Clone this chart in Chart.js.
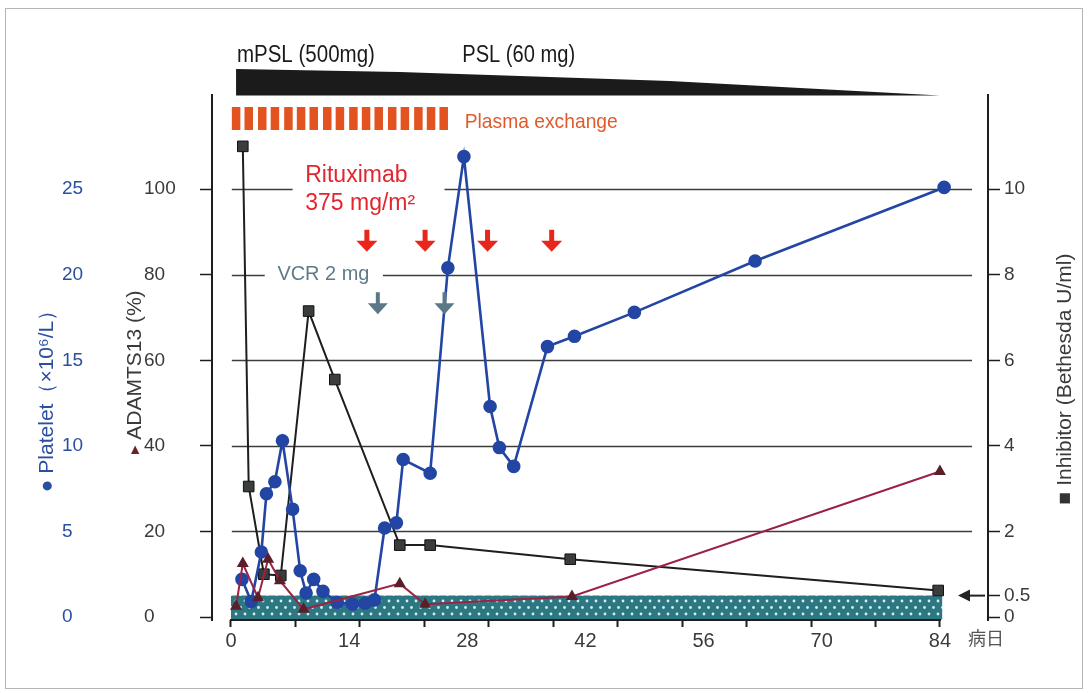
<!DOCTYPE html>
<html lang="en">
<head>
<meta charset="UTF-8">
<title>Clinical course</title>
<script src="https://cdn.jsdelivr.net/npm/chart.js"></script>
<style>
  body { margin: 0; background: #fff; }
  #wrap { position: relative; width: 1088px; height: 693px; }
</style>
</head>
<body>
<div id="wrap"><canvas id="chart" width="1088" height="693"></canvas></div>
<script>
// axis ticks
const xLabelDays = [0, 14, 28, 42, 56, 70, 84];
const xMarkCount = 11; // tick marks on the day axis, not aligned with the labels in the original
const adamTicks = [0, 20, 40, 60, 80, 100];
const plateletTicks = [0, 5, 10, 15, 20, 25];
const inhibitorTicks = [0, 0.5, 2, 4, 6, 8, 10];

// Platelet by day
const plateletDays = [1.3, 2.4, 3.6, 4.2, 5.2, 6.1, 7.3, 8.2, 8.9, 9.8, 10.9, 12.6, 14.4, 15.9, 17.0, 18.2, 19.6, 20.4, 23.6, 25.7, 27.6, 30.7, 31.8, 33.5, 37.5, 40.7, 47.8, 62.1, 84.5];
const plateletValues = [2.2, 0.9, 3.8, 7.2, 7.9, 10.3, 6.3, 2.7, 1.4, 2.2, 1.5, 0.85, 0.75, 0.8, 1.0, 5.2, 5.5, 9.2, 8.4, 20.4, 26.9, 12.3, 9.9, 8.8, 15.8, 16.4, 17.8, 20.8, 25.1];

// ADAMTS13 activity (%)
const adamDays = [0.6, 1.4, 3.2, 4.4, 5.8, 8.6, 20.0, 23.0, 40.4, 84.0];
const adamValues = [2.5, 12.5, 4.5, 13.5, 8.5, 1.8, 7.8, 3.0, 4.8, 34.0];

// Inhibitor (Bethesda U/ml)
const inhibitorDays = [1.4, 2.1, 3.9, 5.9, 9.2, 12.3, 20.0, 23.6, 40.2, 83.8];
const inhibitorValues = [11.0, 3.05, 1.0, 0.97, 7.15, 5.55, 1.68, 1.68, 1.35, 0.62];

// normal range of inhibitor (< 0.5)
const bandDays = [0, 84.3];
const bandLevel = 0.5;

// treatments
const plasmaExchangeDays = [0.6, 2.1, 3.7, 5.2, 6.8, 8.3, 9.8, 11.4, 12.9, 14.5, 16.0, 17.5, 19.1, 20.6, 22.2, 23.7, 25.2];
const rituximabDays = [16.1, 23.0, 30.4, 38.0];
const vcrDays = [17.4, 25.3];
const steroidStart = 0.6, steroidEnd = 84;

const FONT = '"Liberation Sans", Arial, sans-serif';
const BLUE = '#2345a3';

function dotPattern() {
  const c = document.createElement('canvas');
  c.width = 9; c.height = 13;
  const g = c.getContext('2d');
  g.fillStyle = '#2b7882';
  g.fillRect(0, 0, 9, 13);
  g.fillStyle = 'rgba(225,242,242,0.95)';
  g.beginPath(); g.arc(2, 3, 1.4, 0, Math.PI * 2); g.fill();
  g.beginPath(); g.arc(6.5, 9.5, 1.4, 0, Math.PI * 2); g.fill();
  return g.createPattern(c, 'repeat');
}

function pts(days, vals) {
  return days.map((d, i) => ({ x: d, y: vals[i] }));
}

function arrowDown(ctx, x, top, len, color, headW, headH, stemW) {
  ctx.fillStyle = color;
  ctx.fillRect(x - stemW / 2, top, stemW, len - headH + 1);
  ctx.beginPath();
  ctx.moveTo(x - headW / 2, top + len - headH);
  ctx.lineTo(x + headW / 2, top + len - headH);
  ctx.lineTo(x, top + len);
  ctx.closePath();
  ctx.fill();
}

// rotated title reading bottom to top, parts = [[text, color, size], ...]
function sideTitle(ctx, cx, cy, parts) {
  ctx.save();
  ctx.translate(cx, cy);
  ctx.rotate(-Math.PI / 2);
  ctx.textBaseline = 'middle';
  ctx.textAlign = 'left';
  const widths = parts.map(p => { ctx.font = p[2] + 'px ' + FONT; return ctx.measureText(p[0]).width; });
  const total = widths.reduce((s, w) => s + w, 0);
  let px = -total / 2;
  parts.forEach((p, i) => {
    ctx.font = p[2] + 'px ' + FONT;
    ctx.fillStyle = p[1];
    ctx.fillText(p[0], px, 0);
    px += widths[i];
  });
  ctx.restore();
}

const xMarks = [];
for (let i = 0; i <= xMarkCount; i++) xMarks.push(Math.round(i * 84 / xMarkCount * 1000) / 1000);
const isMark = v => xMarks.some(m => Math.abs(m - v) < 0.01);
const isLabel = v => xLabelDays.some(m => Math.abs(m - v) < 0.01);

const annotations = {
  id: 'annotations',
  beforeDatasetsDraw(chart) {
    const { ctx, scales } = chart;
    const x = scales.x, y = scales.y;
    ctx.save();
    // horizontal guide lines
    ctx.strokeStyle = '#3c3c3c';
    ctx.lineWidth = 1.4;
    adamTicks.filter(v => v > 0).forEach(v => {
      const py = Math.round(y.getPixelForValue(v)) + 0.5;
      ctx.beginPath();
      ctx.moveTo(x.getPixelForValue(0.1), py);
      ctx.lineTo(x.getPixelForValue(87.8), py);
      ctx.stroke();
    });
    // white boxes behind the labels
    ctx.fillStyle = '#fff';
    ctx.fillRect(x.getPixelForValue(7.3), 158, x.getPixelForValue(25.3) - x.getPixelForValue(7.3), 58);
    ctx.fillRect(x.getPixelForValue(4.0), 262, x.getPixelForValue(18.0) - x.getPixelForValue(4.0), 24);

    ctx.textAlign = 'left';
    ctx.textBaseline = 'alphabetic';
    ctx.fillStyle = '#e3252e';
    ctx.font = '23px ' + FONT;
    ctx.fillText('Rituximab', x.getPixelForValue(8.8), 182, 108);
    ctx.fillText('375 mg/m²', x.getPixelForValue(8.8), 210, 118);
    ctx.fillStyle = '#5f7b8a';
    ctx.font = '20px ' + FONT;
    ctx.fillText('VCR 2 mg', x.getPixelForValue(5.5), 280, 92);
    ctx.restore();
  },
  afterDatasetsDraw(chart) {
    const { ctx, chartArea, scales } = chart;
    const x = scales.x, y = scales.y, yr = scales.yInh;
    ctx.save();
    // day axis line
    ctx.strokeStyle = '#1e1e1e';
    ctx.lineWidth = 2;
    ctx.beginPath();
    ctx.moveTo(x.getPixelForValue(0) - 1, chartArea.bottom);
    ctx.lineTo(x.getPixelForValue(84) + 1, chartArea.bottom);
    ctx.stroke();

    rituximabDays.forEach(d => arrowDown(ctx, x.getPixelForValue(d), y.getPixelForValue(90.5), 22, '#e8261c', 21, 11, 5));
    vcrDays.forEach(d => arrowDown(ctx, x.getPixelForValue(d), y.getPixelForValue(75.9), 22, '#5b7886', 20, 11, 4));

    // arrow pointing at 0.5
    const py = yr.getPixelForValue(bandLevel);
    const ax = chartArea.right;
    ctx.strokeStyle = '#222';
    ctx.lineWidth = 2;
    ctx.beginPath();
    ctx.moveTo(ax - 3, py);
    ctx.lineTo(ax - 20, py);
    ctx.stroke();
    ctx.fillStyle = '#222';
    ctx.beginPath();
    ctx.moveTo(ax - 30, py);
    ctx.lineTo(ax - 18, py - 6);
    ctx.lineTo(ax - 18, py + 6);
    ctx.closePath();
    ctx.fill();
    ctx.restore();
  },
  afterDraw(chart) {
    const { ctx, scales } = chart;
    const x = scales.x;
    ctx.save();
    // steroid taper wedge
    ctx.fillStyle = '#1b1b1b';
    ctx.beginPath();
    ctx.moveTo(x.getPixelForValue(steroidStart), 69);
    ctx.lineTo(x.getPixelForValue(20), 72);
    ctx.lineTo(x.getPixelForValue(52), 81);
    ctx.lineTo(x.getPixelForValue(steroidEnd), 95.5);
    ctx.lineTo(x.getPixelForValue(steroidStart), 95.5);
    ctx.closePath();
    ctx.fill();

    ctx.textAlign = 'left';
    ctx.textBaseline = 'alphabetic';
    ctx.fillStyle = '#1a1a1a';
    ctx.font = '23px ' + FONT;
    ctx.fillText('mPSL (500mg)', x.getPixelForValue(0.7), 62, 138);
    ctx.fillText('PSL (60 mg)', x.getPixelForValue(27.4), 62, 113);

    // plasma exchange sessions
    ctx.fillStyle = '#e2531f';
    plasmaExchangeDays.forEach(d => ctx.fillRect(x.getPixelForValue(d) - 4.2, 107, 8.5, 23));
    ctx.fillStyle = '#e05a2c';
    ctx.font = '21px ' + FONT;
    ctx.fillText('Plasma exchange', x.getPixelForValue(27.7), 128, 153);

    // axis titles
    sideTitle(ctx, 47, 396, [['● Platelet（×10⁶/L）', '#2a4fa0', 21]]);
    sideTitle(ctx, 135, 372, [['▶', '#6d1f2e', 11], [' ADAMTS13 (%)', '#3a3a3a', 21]]);
    sideTitle(ctx, 1065, 379, [['■ ', '#333', 21], ['Inhibitor (Bethesda U/ml)', '#3a3a3a', 21]]);

    ctx.fillStyle = '#555';
    ctx.font = '18px "Noto Sans CJK JP", sans-serif';
    ctx.textBaseline = 'middle';
    ctx.fillText('病日', 968, 638);

    // frame
    ctx.strokeStyle = '#b5b5b5';
    ctx.lineWidth = 1;
    ctx.strokeRect(5.5, 8.5, 1077, 680);
    ctx.restore();
  }
};

const tickFont = { family: FONT, size: 19 };

new Chart(document.getElementById('chart'), {
  type: 'line',
  data: {
    datasets: [
      {
        label: 'ADAMTS13',
        data: pts(adamDays, adamValues),
        yAxisID: 'y',
        borderColor: '#9c2245',
        borderWidth: 2,
        pointStyle: 'triangle',
        pointRadius: 5,
        pointBackgroundColor: '#5b1f2a',
        pointBorderColor: '#5b1f2a',
        order: 1
      },
      {
        label: 'Platelet',
        data: pts(plateletDays, plateletValues),
        yAxisID: 'yPlt',
        borderColor: BLUE,
        borderWidth: 2.6,
        pointRadius: 5.5,
        pointBackgroundColor: BLUE,
        pointBorderColor: BLUE,
        order: 2
      },
      {
        label: 'Inhibitor',
        data: pts(inhibitorDays, inhibitorValues),
        yAxisID: 'yInh',
        borderColor: '#1e1e1e',
        borderWidth: 2,
        pointStyle: 'rect',
        pointRadius: 7.5,
        pointBackgroundColor: '#3a3d3d',
        pointBorderColor: '#111',
        pointBorderWidth: 1,
        order: 3
      },
      {
        label: 'normal',
        data: pts(bandDays, [bandLevel, bandLevel]),
        yAxisID: 'yInh',
        borderWidth: 0,
        pointRadius: 0,
        backgroundColor: dotPattern(),
        fill: 'start',
        order: 4
      }
    ]
  },
  options: {
    responsive: false,
    animation: false,
    layout: { padding: { left: 62, top: 95, right: 0, bottom: 43 } },
    plugins: { legend: { display: false }, tooltip: { enabled: false } },
    scales: {
      x: {
        type: 'linear',
        min: -2.25,
        max: 89.7,
        afterBuildTicks: s => {
          const vals = xMarks.slice();
          xLabelDays.forEach(v => { if (!isMark(v)) vals.push(v); });
          vals.sort((a, b) => a - b);
          s.ticks = vals.map(v => ({ value: v }));
        },
        afterFit: s => { s.height = 30; },
        border: { display: false },
        grid: {
          drawOnChartArea: false,
          tickLength: 7,
          tickWidth: 2,
          tickColor: c => isMark(c.tick.value) ? '#1e1e1e' : 'rgba(0,0,0,0)'
        },
        ticks: {
          autoSkip: false,
          maxRotation: 0,
          padding: 2,
          color: '#3a3a3a',
          font: { family: FONT, size: 20 },
          callback: v => isLabel(v) ? String(Math.round(v)) : ''
        }
      },
      y: {
        position: 'left',
        weight: 0,
        min: -0.7,
        max: 122,
        afterBuildTicks: s => { s.ticks = adamTicks.map(v => ({ value: v })); },
        afterFit: s => { s.width = 68; },
        border: { color: '#1e1e1e', width: 2 },
        grid: { drawOnChartArea: false, tickLength: 12, tickWidth: 1.5, tickColor: '#1e1e1e' },
        ticks: { crossAlign: 'far', color: '#3a3a3a', font: tickFont }
      },
      yPlt: {
        position: 'left',
        weight: 1,
        min: -0.175,
        max: 30.5,
        afterBuildTicks: s => { s.ticks = plateletTicks.map(v => ({ value: v })); },
        afterFit: s => { s.width = 82; },
        border: { display: false },
        grid: { display: false },
        ticks: { crossAlign: 'far', color: '#2a4fa0', font: tickFont }
      },
      yInh: {
        position: 'right',
        min: -0.07,
        max: 12.2,
        afterBuildTicks: s => { s.ticks = inhibitorTicks.map(v => ({ value: v })); },
        afterFit: s => { s.width = 100; },
        border: { color: '#1e1e1e', width: 2 },
        grid: { drawOnChartArea: false, tickLength: 12, tickWidth: 1.5, tickColor: '#1e1e1e' },
        ticks: { color: '#3a3a3a', font: tickFont, padding: 4 }
      }
    }
  },
  plugins: [annotations]
});
</script>
</body>
</html>
